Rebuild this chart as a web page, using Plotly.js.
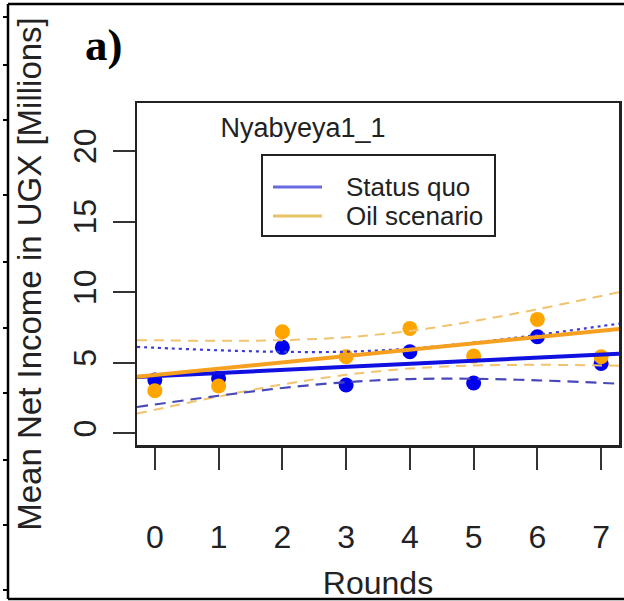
<!DOCTYPE html>
<html>
<head>
<meta charset="utf-8">
<script src="https://cdn.plot.ly/plotly-3.0.1.min.js"></script>
<style>
  html, body { margin: 0; padding: 0; background: #fff; }
  #chart { width: 624px; height: 601px; }
</style>
</head>
<body>
<div id="chart"></div>
<script>
// ---- data ----
const rounds = [0, 1, 2, 3, 4, 5, 6, 7];
const statusQuo = [3.77, 3.89, 6.09, 3.42, 5.78, 3.56, 6.84, 4.95];
const oilScenario = [3.02, 3.35, 7.19, 5.42, 7.43, 5.47, 8.07, 5.42];

// fitted lines (ends read at the plot edges)
const fitX = [-0.28, 7.28];
const statusQuoFit = [3.99, 5.64];
const oilScenarioFit = [4.0, 7.39];

// confidence bands
const bandX = [-0.28, 0, 1, 2, 3, 4, 5, 6, 7, 7.28];
const statusQuoUpper = [6.12, 6.06, 5.88, 5.77, 5.78, 6.00, 6.42, 6.97, 7.59, 7.77];
const statusQuoLower = [1.86, 2.04, 2.66, 3.21, 3.62, 3.84, 3.86, 3.75, 3.57, 3.51];
const oilUpper = [6.6, 6.59, 6.55, 6.60, 6.80, 7.25, 7.94, 8.79, 9.73, 9.99];
const oilLower = [1.4, 1.67, 2.61, 3.46, 4.14, 4.59, 4.80, 4.85, 4.81, 4.79];

const seriesNames = ['Status quo', 'Oil scenario'];
const yTicks = [0, 5, 10, 15, 20];
const chartTitle = 'Nyabyeya1_1';
const panelLabel = 'a)';
const xTitle = 'Rounds';
const yTitle = 'Mean Net Income in UGX [Millions]';

// ---- layout geometry (pixels) ----
const W = 624, H = 601;
const M = { l: 137, r: 5, t: 103, b: 156 };
const plotW = W - M.l - M.r, plotH = H - M.t - M.b;
const px = v => (v - M.l) / plotW;
const py = v => (H - M.b - v) / plotH;

const BLUE = '#0000ee';
const ORANGE = '#ffa500';
const FONT = '"Liberation Sans", Arial, Helvetica, sans-serif';
const legendColors = ['#6a6ae0', '#e6c466'];

const traces = [
  { x: rounds, y: statusQuo, mode: 'markers', type: 'scatter', name: seriesNames[0], showlegend: false,
    marker: { color: BLUE, size: 15 } },
  { x: rounds, y: oilScenario, mode: 'markers', type: 'scatter', name: seriesNames[1], showlegend: false,
    marker: { color: ORANGE, size: 15 } },
  { x: bandX, y: oilUpper, mode: 'lines', type: 'scatter', showlegend: false,
    line: { color: '#f2c36e', width: 2, dash: '10px,7px', shape: 'spline' } },
  { x: bandX, y: oilLower, mode: 'lines', type: 'scatter', showlegend: false,
    line: { color: '#f2c36e', width: 2, dash: '10px,7px', shape: 'spline' } },
  { x: bandX, y: statusQuoUpper, mode: 'lines', type: 'scatter', showlegend: false,
    line: { color: '#3a3ad8', width: 2.2, dash: '3px,4px', shape: 'spline' } },
  { x: bandX, y: statusQuoLower, mode: 'lines', type: 'scatter', showlegend: false,
    line: { color: '#4848b8', width: 2.2, dash: '11px,7px', shape: 'spline' } },
  { x: fitX, y: statusQuoFit, mode: 'lines', type: 'scatter', showlegend: false,
    line: { color: '#1010e0', width: 4 } },
  { x: fitX, y: oilScenarioFit, mode: 'lines', type: 'scatter', showlegend: false,
    line: { color: '#f5a020', width: 4 } }
];

const shapes = [];
// outer frame (top, left, bottom)
const frameLine = { type: 'line', xref: 'paper', yref: 'paper', line: { color: '#000', width: 2.5 } };
shapes.push(Object.assign({}, frameLine, { x0: px(8), x1: px(624), y0: py(4), y1: py(4) }));
shapes.push(Object.assign({}, frameLine, { x0: px(8), x1: px(8), y0: py(4), y1: py(599) }));
shapes.push(Object.assign({}, frameLine, { x0: px(8), x1: px(624), y0: py(599), y1: py(599) }));
[17, 65, 120, 195, 262, 328, 393, 460, 525, 590].forEach(t => {
  shapes.push({ type: 'line', xref: 'paper', yref: 'paper', x0: px(3), x1: px(8), y0: py(t), y1: py(t),
    line: { color: '#000', width: 2 } });
});
// legend box
const LEG = { x0: 262, x1: 495, y0: 155, y1: 236, rowY: [187, 216], lineX: [273, 322], textX: 344 };
shapes.push({ type: 'rect', xref: 'paper', yref: 'paper', x0: px(LEG.x0), x1: px(LEG.x1), y0: py(LEG.y0), y1: py(LEG.y1),
  line: { color: '#222', width: 2 }, fillcolor: 'rgba(0,0,0,0)' });
const annotations = [
  { text: '<b>' + panelLabel + '</b>', xref: 'paper', yref: 'paper', x: px(104), y: py(45),
    xanchor: 'center', yanchor: 'middle', showarrow: false,
    font: { family: '"Liberation Serif", "Times New Roman", serif', size: 45, color: '#000' } }
];
seriesNames.forEach((name, i) => {
  shapes.push({ type: 'line', xref: 'paper', yref: 'paper', x0: px(LEG.lineX[0]), x1: px(LEG.lineX[1]),
    y0: py(LEG.rowY[i]), y1: py(LEG.rowY[i]), line: { color: legendColors[i], width: 3 } });
  annotations.push({ text: name, xref: 'paper', yref: 'paper', x: px(LEG.textX), y: py(LEG.rowY[i]),
    xanchor: 'left', yanchor: 'middle', showarrow: false,
    font: { family: FONT, size: 26, color: '#222' } });
});

const layout = {
  width: W, height: H,
  margin: M,
  paper_bgcolor: '#fff', plot_bgcolor: '#fff',
  font: { family: FONT, color: '#222', size: 32 },
  showlegend: false,
  title: { text: chartTitle, font: { family: FONT, size: 27, color: '#222' },
    xref: 'paper', x: px(303), xanchor: 'center', yref: 'container', y: 1 - 128 / H, yanchor: 'middle' },
  xaxis: {
    range: [-0.28, 7.28], tickvals: rounds, ticktext: rounds.map(String),
    ticks: 'outside', ticklen: 22, tickwidth: 2, tickcolor: '#333',
    ticklabelstandoff: 40,
    showline: true, mirror: true, linewidth: 2.5, linecolor: '#222',
    showgrid: false, zeroline: false,
    tickfont: { family: FONT, size: 32, color: '#222' },
    title: { text: xTitle, font: { family: FONT, size: 32, color: '#222' }, standoff: 26 }
  },
  yaxis: {
    range: [-0.83, 23.4], tickvals: yTicks, ticktext: yTicks.map(String), tickangle: -90,
    ticks: 'outside', ticklen: 22, tickwidth: 2, tickcolor: '#333',
    ticklabelstandoff: 4,
    showline: true, mirror: true, linewidth: 2.5, linecolor: '#222',
    showgrid: false, zeroline: false,
    tickfont: { family: FONT, size: 32, color: '#222' },
    title: { text: yTitle, font: { family: FONT, size: 33, color: '#222' }, standoff: 15 }
  },
  annotations: annotations,
  shapes: shapes
};

Plotly.newPlot('chart', traces, layout, { staticPlot: true, displayModeBar: false });
</script>
</body>
</html>
